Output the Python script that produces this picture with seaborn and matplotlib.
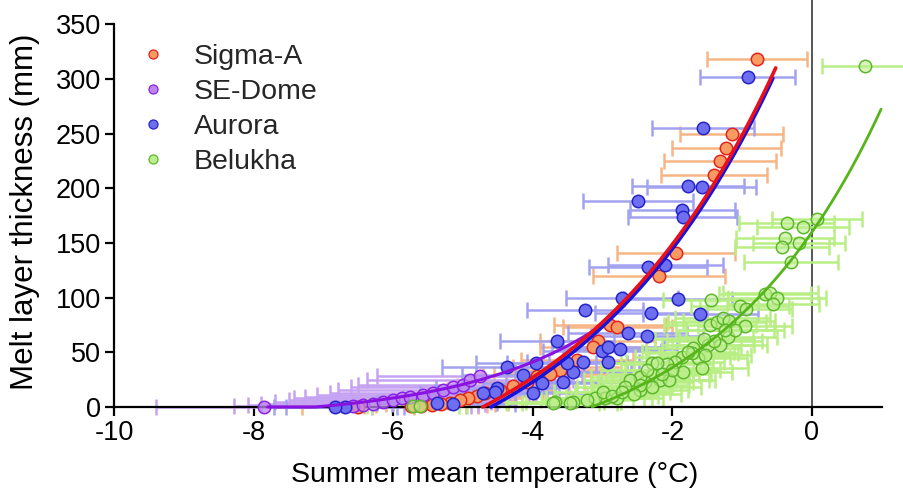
import numpy as np
import pandas as pd
import matplotlib
matplotlib.use("Agg")
import matplotlib.pyplot as plt
import seaborn as sns
from matplotlib.lines import Line2D

# ---------------- data ----------------
series_names = ["Sigma-A", "SE-Dome", "Aurora", "Belukha"]

sigma_x = [-0.79, -1.15, -1.23, -1.32, -1.40, -1.95, -2.19, -2.89, -2.79, -3.07, -3.14, -3.37,
           -3.51, -3.61, -3.75, -3.94, -4.08, -4.28, -4.47, -4.68, -4.80, -4.93, -5.04, -5.18,
           -5.32, -5.45, -5.60, -5.74, -6.50]
sigma_y = [318, 250, 237, 225, 212, 141, 120, 75, 73, 60, 55, 43,
           37, 34, 30, 28, 23, 19, 16, 13, 10, 8, 6, 4,
           3, 2, 1, 1, 0]
sigma_err = [0.72, 0.74, 0.78, 0.80, 0.76, 0.85, 0.95, 0.80, 0.78, 0.82, 0.76, 0.80,
             0.78, 0.74, 0.80, 0.78, 0.82, 0.80, 0.76, 0.82, 0.80, 0.78, 0.80, 0.82,
             0.78, 0.80, 0.82, 0.78, 0.80]

sedome_x = [-7.85, -6.58, -6.43, -6.29, -6.15, -6.00, -5.87, -5.76, -5.57, -5.43, -5.29,
            -5.14, -5.00, -4.90, -4.76]
sedome_y = [0, 1, 2, 3, 5, 6, 8, 9, 11, 13, 16, 18, 20, 25, 28]
sedome_err = [1.55, 1.70, 1.65, 1.60, 1.55, 1.50, 1.55, 1.50, 1.52, 1.48, 1.50,
              1.46, 1.50, 1.48, 1.47]

aurora_x = [-0.92, -1.56, -1.78, -1.58, -2.49, -1.86, -1.85, -2.35, -2.10, -2.72, -1.92,
            -3.25, -2.31, -1.60, -2.64, -2.36, -3.65, -3.01, -2.92, -2.75, -2.92, -3.28,
            -3.42, -3.51, -3.57, -3.87, -3.95, -4.14, -4.37, -4.00, -4.51, -4.54, -4.71,
            -5.14, -5.37, -6.69, -6.83]
aurora_y = [302, 255, 202, 201, 188, 180, 174, 128, 130, 100, 99,
            89, 86, 85, 68, 65, 60, 51, 55, 53, 41, 41,
            32, 40, 23, 22, 40, 29, 37, 13, 17, 14, 13,
            3, 4, 0, 0]
aurora_err = [0.68, 0.73, 0.80, 0.78, 0.79, 0.75, 0.78, 0.85, 0.82, 0.80, 0.78,
              0.83, 0.80, 0.82, 0.85, 0.80, 0.82, 0.84, 0.80, 0.82, 0.85, 0.80,
              0.83, 0.86, 0.82, 0.84, 0.86, 0.88, 0.93, 0.85, 0.88, 0.86, 0.90,
              0.88, 0.86, 0.85, 0.88]

belukha_x = [0.76, -0.36, -0.13, 0.07, -0.39, -0.19, -0.43, -0.30, -0.67, -0.60, -0.50,
             -0.56, -1.45, -1.03, -0.95, -0.96, -1.46, -1.36, -1.28, -1.19, -1.20, -1.32,
             -1.49, -1.70, -1.63, -1.53, -1.86, -1.96, -2.08, -2.29, -1.85, -2.28, -2.39,
             -2.18, -2.05, -2.46, -2.29, -1.72, -2.22, -2.46, -2.61, -2.68, -2.46, -2.79,
             -2.97, -3.11, -3.22, -3.42, -3.68, -3.71, -3.47, -5.72, -5.62, -1.10, -1.58,
             -2.55, -3.00, -2.86, -1.40, -1.55, -1.78, -2.00, -2.15, -2.36, -2.72, -1.25]
belukha_y = [312, 168, 165, 172, 155, 150, 146, 133, 103, 104, 100,
             94, 98, 92, 90, 74, 75, 78, 81, 79, 64, 57,
             57, 54, 45, 48, 46, 41, 39, 40, 32, 29, 23,
             25, 25, 16, 18, 49, 40, 27, 25, 18, 20, 8,
             8, 8, 6, 5, 5, 4, 4, 1, 1, 70, 36,
             12, 14, 10, 60, 62, 50, 34, 30, 34, 14, 70]
belukha_err = [0.62, 0.68, 0.66, 0.64, 0.70, 0.66, 0.68, 0.67, 0.66, 0.68, 0.70,
               0.66, 0.68, 0.70, 0.66, 0.68, 0.66, 0.70, 0.68, 0.66, 0.70, 0.68,
               0.66, 0.68, 0.70, 0.66, 0.68, 0.70, 0.66, 0.68, 0.70, 0.66, 0.68,
               0.70, 0.66, 0.68, 0.70, 0.66, 0.68, 0.70, 0.66, 0.68, 0.70, 0.66,
               0.68, 0.70, 0.66, 0.68, 0.70, 0.66, 0.68, 0.66, 0.68, 0.70, 0.66,
               0.68, 0.70, 0.66, 0.68, 0.70, 0.66, 0.68, 0.70, 0.66, 0.68, 0.70]

# exponential fits  y = a*exp(b*x) + c  over [x_start, x_end]
fit_a = [487.0, 386.0, 487.0, 218.0]
fit_b = [0.34, 0.50, 0.34, 0.42]
fit_c = [-98.0, -11.0, -102.0, -58.0]
fit_start = [-4.72, -7.80, -4.60, -3.15]
fit_end = [-0.52, -3.10, -0.56, 0.99]

x_ticks = [-10, -8, -6, -4, -2, 0]
y_ticks = [0, 50, 100, 150, 200, 250, 300, 350]

# ---------------- styles ----------------
face_cols = ["#F79B63", "#BE85F2", "#6E6EF0", "#BDEE8E"]
edge_cols = ["#E4231C", "#8A22E4", "#2424C8", "#5DB82B"]
err_cols = ["#F7B586", "#C6A2F2", "#A2A2F0", "#B9EE85"]
line_cols = ["#E8101A", "#8A12E0", "#1414DC", "#55B51A"]
line_w = [2.6, 2.2, 2.6, 2.0]
face_alpha = [1.0, 0.75, 1.0, 0.6]

sns.set_style("ticks")
plt.rcParams["font.family"] = ["Liberation Sans", "DejaVu Sans"]

fig = plt.figure(figsize=(9.04, 4.94), dpi=100)
ax = fig.add_axes([114 / 904, 1 - 407 / 494, 790 / 904, 407 / 494])

all_x = [sigma_x, sedome_x, aurora_x, belukha_x]
all_y = [sigma_y, sedome_y, aurora_y, belukha_y]
all_e = [sigma_err, sedome_err, aurora_err, belukha_err]

frames = []
for name, xs, ys, es in zip(series_names, all_x, all_y, all_e):
    frames.append(pd.DataFrame({"site": name, "temp": xs, "thick": ys, "err": es}))
df = pd.concat(frames, ignore_index=True)

# error bars
for i, name in enumerate(series_names):
    d = df[df["site"] == name]
    ax.errorbar(d["temp"].to_numpy(), d["thick"].to_numpy(), xerr=d["err"].to_numpy(),
                fmt="none", ecolor=err_cols[i], elinewidth=1.8, capsize=6,
                capthick=1.8, zorder=1 + i * 0.1, clip_on=False)

# zero line
ax.axvline(0, color="#3a3a3a", lw=1.2, zorder=0.5)

# points
order = [3, 1, 0, 2]
for i in order:
    name = series_names[i]
    d = df[df["site"] == name]
    fc = matplotlib.colors.to_rgba(face_cols[i], face_alpha[i])
    sns.scatterplot(data=d, x="temp", y="thick", ax=ax, s=80, color=fc,
                    edgecolor=edge_cols[i], linewidth=1.1, zorder=3 + i * 0.1,
                    clip_on=False, legend=False)

# fit curves
for i in [1, 3, 2, 0]:
    xs = np.linspace(fit_start[i], fit_end[i], 200)
    ys = np.maximum(fit_a[i] * np.exp(fit_b[i] * xs) + fit_c[i], 0)
    cdf = pd.DataFrame({"temp": xs, "thick": ys})
    sns.lineplot(data=cdf, x="temp", y="thick", ax=ax, color=line_cols[i],
                 lw=line_w[i], zorder=5, sort=False, estimator=None, clip_on=False)

ax.set_xlim(-10, -10 + 790 / 69.8)
ax.set_ylim(0, 372.2)
ax.set_xticks(x_ticks)
ax.set_xticklabels([str(t) for t in x_ticks])
ax.set_yticks(y_ticks)
ax.set_yticklabels([str(t) for t in y_ticks])
for s in ["top", "right"]:
    ax.spines[s].set_visible(False)
ax.spines["left"].set_bounds(0, 350)
ax.spines["bottom"].set_bounds(-10, 1)
for s in ["left", "bottom"]:
    ax.spines[s].set_linewidth(1.6)
    ax.spines[s].set_color("black")
    ax.spines[s].set_zorder(2)
ax.tick_params(axis="both", direction="out", length=6.5, width=1.6, color="black",
               labelsize=19.5, labelcolor="black", pad=3)

ax.set_xlabel("Summer mean temperature (°C)", fontsize=20.5, color="black")
ax.set_ylabel("Melt layer thickness (mm)", fontsize=22.5, color="black")
ax.xaxis.set_label_coords(0.482, -0.135)
ax.yaxis.set_label_coords(-0.094, 0.479)

handles = [Line2D([], [], ls="", marker="o", ms=6.5, mfc=face_cols[i],
                  mec=edge_cols[i], mew=0.9) for i in range(4)]
leg = ax.legend(handles, series_names, loc="upper left",
                bbox_to_anchor=(139 / 904, 1 - 44 / 494), bbox_transform=fig.transFigure,
                frameon=False, fontsize=20.5, handlelength=1.0, handletextpad=0.92,
                labelspacing=0.32, borderpad=0, borderaxespad=0)

fig.savefig("out.png", dpi=100)
